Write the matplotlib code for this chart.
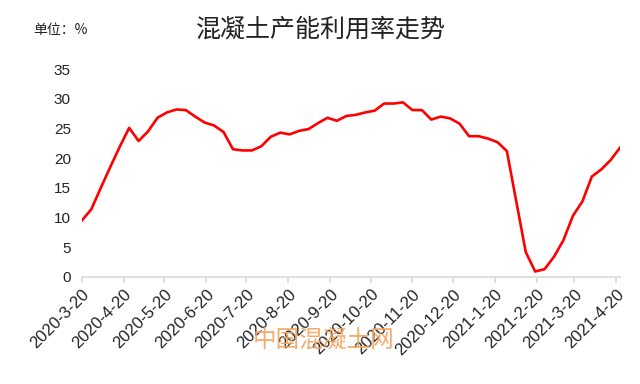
import matplotlib
matplotlib.use('Agg')
import matplotlib.pyplot as plt
import pandas as pd

plt.rcParams['font.family'] = ['Liberation Sans', 'Noto Sans CJK SC', 'DejaVu Sans']

# weekly utilisation rate, %
start_date = '2020-03-20'
rate = [9.5, 11.4, 15.0, 18.5, 21.9, 25.1, 22.9, 24.5, 26.8, 27.7,
        28.2, 28.1, 27.0, 26.0, 25.5, 24.4, 21.5, 21.3, 21.3, 22.0,
        23.6, 24.3, 24.0, 24.6, 24.9, 25.9, 26.8, 26.3, 27.1, 27.3,
        27.7, 28.0, 29.2, 29.2, 29.4, 28.1, 28.1, 26.5, 27.0, 26.7,
        25.8, 23.7, 23.7, 23.3, 22.7, 21.2, 12.7, 4.2, 0.9, 1.3,
        3.4, 6.2, 10.3, 12.7, 16.9, 18.1, 19.7, 21.8]
dates = pd.date_range(start_date, periods=len(rate), freq='7D')

tick_labels = ['2020-3-20', '2020-4-20', '2020-5-20', '2020-6-20', '2020-7-20',
               '2020-8-20', '2020-9-20', '2020-10-20', '2020-11-20', '2020-12-20',
               '2021-1-20', '2021-2-20', '2021-3-20', '2021-4-20']
tick_dates = pd.to_datetime(tick_labels, format='%Y-%m-%d')

title = '混凝土产能利用率走势'
unit = '单位：%'
watermark = '中国混凝土网'

fig = plt.figure(figsize=(6.4, 3.84), dpi=100)
ax = fig.add_axes([0.128, 0.279, 0.841, 0.541])

ax.plot(dates, rate, color='#ff0000', lw=1.9, solid_joinstyle='round')

ax.set_ylim(0, 35)
ax.set_yticks(range(0, 36, 5))
ax.set_xlim(dates[0], dates[-1])
ax.set_xticks(tick_dates)
ax.set_xticklabels(tick_labels, rotation=45, ha='right', rotation_mode='anchor')

for s in ['top', 'right', 'left']:
    ax.spines[s].set_visible(False)
ax.spines['bottom'].set_color('#d9d9d9')
ax.spines['bottom'].set_linewidth(1.2)
ax.tick_params(axis='y', length=0, labelsize=11, colors='#222222', pad=8)
ax.tick_params(axis='x', length=4, width=1.2, color='#d9d9d9', labelsize=12,
               labelcolor='#222222', pad=3)

fig.text(0.502, 0.922, title, ha='center', va='center', fontsize=18,
         color='#222222', family=['Noto Sans CJK SC', 'DejaVu Sans'])
fig.text(0.052, 0.922, unit, ha='left', va='center', fontsize=10,
         color='#222222', family=['Noto Sans CJK SC', 'DejaVu Sans'])
fig.text(0.505, 0.112, watermark, ha='center', va='center', fontsize=17,
         color='#f5a25d', alpha=0.9, family=['Noto Sans CJK SC', 'DejaVu Sans'])

fig.savefig('out.png', dpi=100)
